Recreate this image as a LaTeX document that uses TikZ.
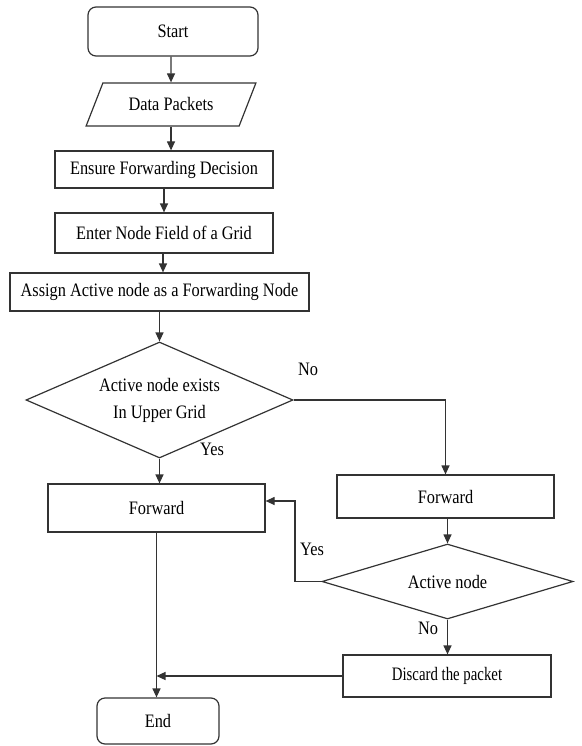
\documentclass[tikz,border=0pt]{standalone}
\usepackage{fontspec}
\setmainfont{Liberation Serif}[FakeStretch=0.86]
\newfontfamily\narrowfont{Liberation Serif}[FakeStretch=0.78]
\usetikzlibrary{shapes.geometric,arrows.meta}
\definecolor{linegray}{HTML}{333333}
\tikzset{
  base/.style={draw=linegray, line width=1.2pt, text=black, inner sep=0pt,
    font=\fontsize{19}{27}\selectfont, align=center},
  terminal/.style={base, rectangle, rounded corners=8pt},
  procbox/.style={base, rectangle},
  iobox/.style={base, trapezium, trapezium left angle=52, trapezium right angle=128,
    trapezium stretches=true},
  decision/.style={base, diamond},
  arr/.style={draw=linegray, line width=1.2pt, -{Triangle[length=9pt,width=8pt]}},
  lbl/.style={font=\fontsize{19}{22}\selectfont, inner sep=0pt}
}
\begin{document}
\begin{tikzpicture}[x=1pt,y=-1pt]
\useasboundingbox (0,0) rectangle (581,746);

\node[terminal, minimum width=170pt, minimum height=49pt] (start) at (173,31.5) {Start};
\node[iobox, minimum width=170pt, minimum height=43pt] (data) at (171,104.5) {Data Packets};
\node[procbox, minimum width=218pt, minimum height=37pt] (ensure) at (164,169.5) {Ensure Forwarding Decision};
\node[procbox, minimum width=218pt, minimum height=40pt] (enter) at (164,233) {Enter Node Field of a Grid};
\node[procbox, minimum width=299pt, minimum height=38pt] (assign) at (159.5,292) {Assign Active node as a Forwarding Node};
\node[decision, aspect=2.3, minimum width=267pt, minimum height=116pt] (d1) at (159.5,400) {Active node exists\\In Upper Grid};
\node[procbox, minimum width=217pt, minimum height=48pt] (f1) at (156.5,508) {Forward};
\node[procbox, minimum width=217pt, minimum height=43pt] (f2) at (445.5,496.5) {Forward};
\node[decision, aspect=3.3, minimum width=251pt, minimum height=75pt] (d2) at (447.5,581.5) {Active node};
\node[procbox, minimum width=208pt, minimum height=42pt, font=\narrowfont\fontsize{19}{22}\selectfont] (disc) at (447,676) {Discard the packet};
\node[terminal, minimum width=122pt, minimum height=46pt] (end) at (158,721) {End};

\coordinate (yb) at (295,501);

\draw[arr] (start.south -| data) -- (data.north);
\draw[arr] (data.south) -- (data.south |- ensure.north);
\draw[arr] (ensure.south) -- (ensure.south |- enter.north);
\draw[arr] (enter.south -| 163,0) -- (163,0 |- assign.north);
\draw[arr] (assign.south) -- (d1.north);
\draw[arr] (d1.south) -- (d1.south |- f1.north);
\draw[arr] (d1.east) -| (f2.north);
\draw[arr] (f2.south -| d2.north) -- (d2.north);
\draw[arr] (d2.west) -| (yb) -- (f1.east |- yb);
\draw[arr] (d2.south) -- (d2.south |- disc.north);
\draw[arr] (disc.west) -- (f1.south |- disc.west);
\draw[arr] (f1.south) -- (f1.south |- end.north);

\node[lbl] (no1) at (308,369) {No};
\node[lbl] (yes1) at (212,449) {Yes};
\node[lbl] (yes2) at (312,549) {Yes};
\node[lbl] (no2) at (428,628) {No};
\end{tikzpicture}
\end{document}
